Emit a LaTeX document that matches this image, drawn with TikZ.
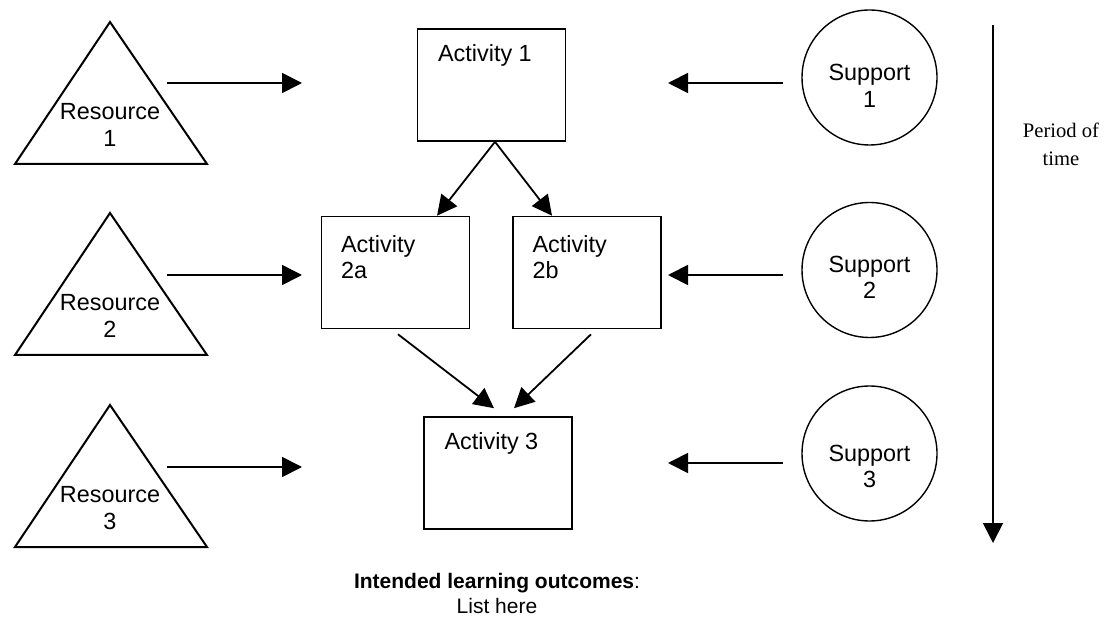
\documentclass[tikz,border=0pt]{standalone}
\usepackage{fontspec}
\setmainfont{Liberation Sans}
\newfontfamily\timesfont{Liberation Serif}
\usetikzlibrary{arrows.meta, positioning}

\begin{document}
\begin{tikzpicture}[x=0.5pt, y=-0.5pt,
    act/.style={rectangle, draw, line width=0.8pt, minimum width=74pt, minimum height=56pt, inner sep=0pt},
    sup/.style={circle, draw, line width=0.7pt, minimum size=67.5pt, inner sep=0pt},
    lbl/.style={align=center, inner sep=0pt, font=\fontsize{11.7}{13.2}\selectfont},
    tag/.style={anchor=north west, align=left, inner sep=0pt, font=\fontsize{11.7}{13.2}\selectfont},
    flow/.style={-{Triangle[length=10pt, width=10pt]}, line width=0.9pt}]
    \useasboundingbox (0,0) rectangle (1117,619);

    % resources
    \foreach \i/\ya/\ar in {1/22/83, 2/213/275, 3/405/467} {
        \draw[line width=1pt] (110,\ya) -- (207,\ya+142) -- (15,\ya+142) -- cycle;
        \node[lbl] (r\i) at (110,\ya+103) {Resource\\\i};
        \coordinate (ro\i) at (167,\ar);
        \coordinate (ai\i) at (302,\ar);
        \draw[flow] (ro\i) -- (ai\i);
    }

    % supports
    \foreach \i/\yc/\yl/\ar in {1/77.5/86/83, 2/270/277.5/275, 3/453.5/466.5/463} {
        \node[sup] (s\i) at (869.5,\yc) {};
        \node[lbl] (sl\i) at (869.5,\yl) {Support\\\i};
        \coordinate (so\i) at (783,\ar);
        \coordinate (si\i) at (668,\ar);
        \draw[flow] (so\i) -- (si\i);
    }

    % activities
    \node[act] (a1) at (491.5,85) {};
    \node[tag] (t1) at ([shift={(21,16)}]a1.north west) {Activity 1};
    \node[act] (a2a) at (395.5,272.5) {};
    \node[tag] (t2a) at ([shift={(20,19)}]a2a.north west) {Activity\\2a};
    \node[act] (a2b) at (587,272.5) {};
    \node[tag] (t2b) at ([shift={(20,19)}]a2b.north west) {Activity\\2b};
    \node[act] (a3) at (498,473) {};
    \node[tag] (t3) at ([shift={(21,16)}]a3.north west) {Activity 3};

    \draw[flow] ([shift={(3.5,0)}]a1.south) -- ([shift={(41.5,0)}]a2a.north);
    \draw[flow] ([shift={(3.5,0)}]a1.south) -- ([shift={(-35,0)}]a2b.north);
    \draw[flow] ([shift={(2.5,5)}]a2a.south) -- ([shift={(-4,-8)}]a3.north);
    \draw[flow] ([shift={(4,5)}]a2b.south) -- ([shift={(16,-8)}]a3.north);

    % time
    \coordinate (tt) at (993,25);
    \coordinate (tb) at (993,543);
    \draw[flow] (tt) -- (tb);
    \node[align=center, inner sep=0pt, font=\timesfont\fontsize{10.3}{14}\selectfont] (per) at (1061,144) {Period of\\time};

    \node[align=center, inner sep=0pt, font=\fontsize{10.5}{12.5}\selectfont] (ilo) at (497,593) {\textbf{Intended learning outcomes}:\\List here};
\end{tikzpicture}
\end{document}
